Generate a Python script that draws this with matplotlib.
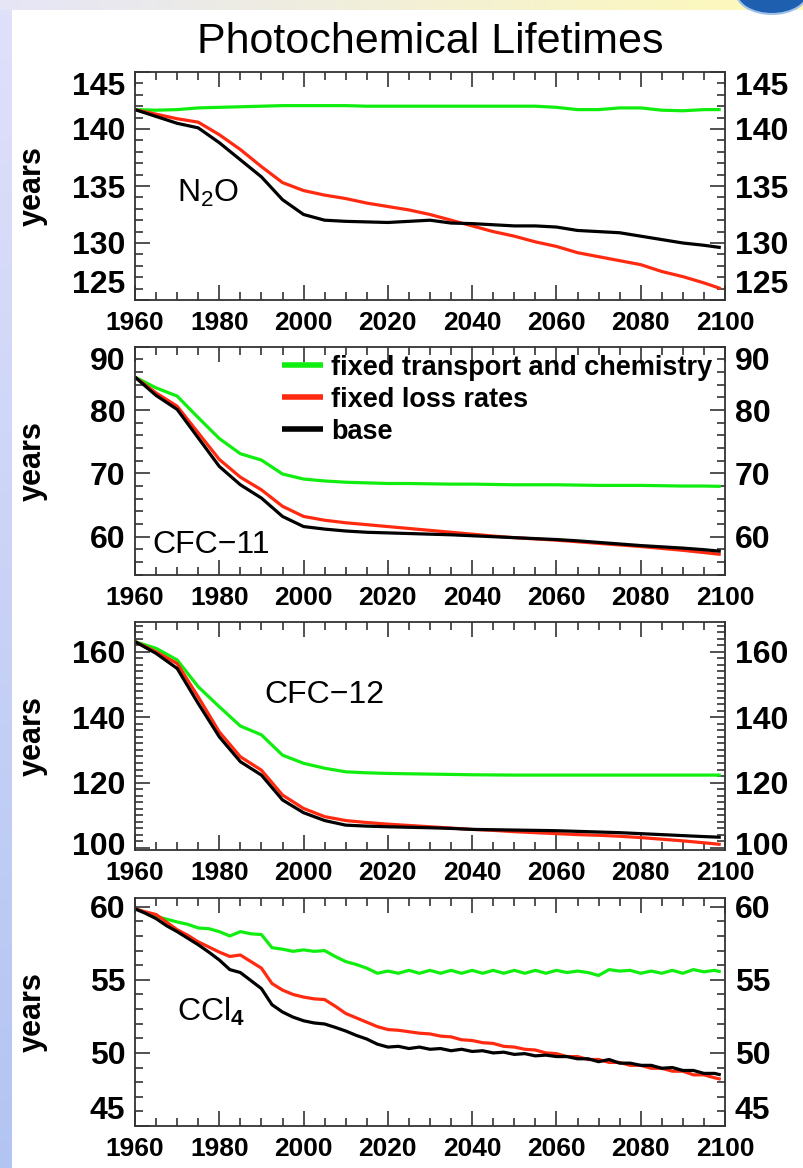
import numpy as np
import matplotlib
matplotlib.use('Agg')
import matplotlib.pyplot as plt
import matplotlib.transforms as mtransforms
from matplotlib.ticker import MultipleLocator, FixedLocator
from matplotlib.patches import Ellipse

plt.rcParams['font.family'] = ['Liberation Sans', 'DejaVu Sans']
plt.rcParams['mathtext.fontset'] = 'custom'
plt.rcParams['mathtext.rm'] = 'Liberation Sans'
plt.rcParams['mathtext.bf'] = 'Liberation Sans:bold'

# --- data ---
years = list(range(1960, 2100, 5)) + [2099]
years_ccl4 = list(np.arange(1960, 2099, 2.5)) + [2099]

n2o_fixed_tc = [141.7, 141.65, 141.7, 141.85, 141.9, 141.95, 142.0, 142.05, 142.05, 142.05,
                142.05, 142.0, 142.0, 142.0, 142.0, 142.0, 142.0, 142.0, 142.0, 142.0,
                141.9, 141.7, 141.7, 141.85, 141.85, 141.65, 141.6, 141.7, 141.7]
n2o_fixed_loss = [141.7, 141.3, 140.9, 140.6, 139.5, 138.2, 136.7, 135.3, 134.6, 134.2,
                  133.9, 133.5, 133.2, 132.9, 132.5, 132.0, 131.5, 131.0, 130.6, 130.1,
                  129.7, 129.15, 128.8, 128.45, 128.1, 127.5, 127.05, 126.5, 126.0]
n2o_base = [141.7, 141.1, 140.5, 140.1, 138.8, 137.3, 135.8, 133.8, 132.5, 132.0,
            131.9, 131.85, 131.8, 131.9, 132.0, 131.75, 131.7, 131.6, 131.5, 131.5,
            131.4, 131.1, 131.0, 130.9, 130.6, 130.3, 130.0, 129.8, 129.6]

cfc11_fixed_tc = [85.2, 83.5, 82.2, 78.8, 75.5, 73.1, 72.1, 69.9, 69.1, 68.8,
                  68.6, 68.5, 68.4, 68.4, 68.35, 68.3, 68.3, 68.25, 68.2, 68.2,
                  68.2, 68.15, 68.1, 68.1, 68.1, 68.05, 68.0, 68.0, 67.95]
cfc11_fixed_loss = [85.2, 82.7, 80.6, 76.4, 72.2, 69.4, 67.4, 64.8, 63.2, 62.6,
                    62.2, 61.9, 61.6, 61.3, 61.0, 60.7, 60.4, 60.1, 59.85, 59.65,
                    59.45, 59.2, 58.95, 58.7, 58.45, 58.15, 57.85, 57.5, 57.2]
cfc11_base = [85.2, 82.3, 80.1, 75.6, 71.1, 68.2, 66.1, 63.2, 61.6, 61.2,
              60.9, 60.7, 60.6, 60.5, 60.4, 60.3, 60.15, 60.0, 59.85, 59.7,
              59.55, 59.35, 59.1, 58.85, 58.6, 58.4, 58.2, 57.95, 57.7]

cfc12_fixed_tc = [163.1, 161.05, 157.5, 149.3, 143.2, 137.3, 134.6, 128.4, 125.9, 124.4,
                  123.3, 123.0, 122.8, 122.7, 122.6, 122.5, 122.4, 122.35, 122.3, 122.3,
                  122.3, 122.3, 122.3, 122.3, 122.3, 122.3, 122.3, 122.3, 122.3]
cfc12_fixed_loss = [163.1, 160.0, 156.4, 146.2, 135.5, 127.9, 123.8, 116.2, 112.1, 109.6,
                    108.4, 107.8, 107.3, 106.9, 106.5, 106.1, 105.7, 105.4, 105.0, 104.7,
                    104.4, 104.1, 103.9, 103.6, 103.2, 102.7, 102.2, 101.6, 101.1]
cfc12_base = [163.1, 159.5, 154.9, 144.2, 134.0, 126.4, 122.3, 114.7, 110.8, 108.4,
              107.0, 106.7, 106.5, 106.35, 106.2, 106.0, 105.7, 105.6, 105.5, 105.4,
              105.3, 105.1, 104.9, 104.7, 104.4, 104.1, 103.8, 103.5, 103.3]

ccl4_fixed_tc = [59.86, 59.6, 59.35, 59.15, 58.96, 58.8, 58.55, 58.5, 58.3, 58.0,
                 58.3, 58.15, 58.1, 57.2, 57.1, 56.95, 57.05, 56.95, 57.0, 56.6,
                 56.25, 56.05, 55.8, 55.45, 55.6, 55.45, 55.65, 55.45, 55.65, 55.45,
                 55.65, 55.45, 55.65, 55.45, 55.65, 55.45, 55.65, 55.45, 55.65, 55.45,
                 55.65, 55.5, 55.6, 55.5, 55.3, 55.7, 55.6, 55.65, 55.45, 55.6,
                 55.45, 55.65, 55.45, 55.7, 55.55, 55.65, 55.55]
ccl4_fixed_loss = [59.86, 59.65, 59.47, 58.95, 58.43, 58.05, 57.6, 57.25, 56.9, 56.6,
                   56.7, 56.25, 55.8, 54.75, 54.3, 54.0, 53.82, 53.7, 53.65, 53.2,
                   52.7, 52.4, 52.1, 51.8, 51.6, 51.55, 51.45, 51.35, 51.3, 51.15,
                   51.1, 50.9, 50.85, 50.7, 50.65, 50.45, 50.4, 50.25, 50.2, 50.0,
                   49.95, 49.75, 49.75, 49.55, 49.55, 49.35, 49.35, 49.15, 49.15, 48.95,
                   48.95, 48.75, 48.75, 48.5, 48.5, 48.3, 48.2]
ccl4_base = [59.86, 59.55, 59.19, 58.7, 58.3, 57.85, 57.4, 56.9, 56.36, 55.7,
             55.5, 54.95, 54.4, 53.3, 52.8, 52.45, 52.2, 52.05, 51.98, 51.75,
             51.5, 51.2, 50.95, 50.6, 50.4, 50.45, 50.3, 50.4, 50.25, 50.3,
             50.15, 50.25, 50.1, 50.15, 50.0, 50.05, 49.9, 49.95, 49.8, 49.85,
             49.75, 49.75, 49.6, 49.6, 49.4, 49.55, 49.3, 49.3, 49.15, 49.15,
             48.95, 49.0, 48.8, 48.8, 48.6, 48.6, 48.5]

series_labels = ['fixed transport and chemistry', 'fixed loss rates', 'base']
series_colors = ['#10ee10', '#ff2a10', 'black']
xticks = [1960, 1980, 2000, 2020, 2040, 2060, 2080, 2100]

# panel: (x, [tc, loss, base], name, ylim, yticks, minor step, label pos, label va fix)
panels = [
    (years, [n2o_fixed_tc, n2o_fixed_loss, n2o_base], 'N$_\\mathregular{2}$O',
     (125, 145), [125, 130, 135, 140, 145], 1, (0.071, 0.47), {0: 'bottom', 4: 'top'}),
    (years, [cfc11_fixed_tc, cfc11_fixed_loss, cfc11_base], 'CFC\u221211',
     (54, 90), [60, 70, 80, 90], 2, (0.029, 0.13), {3: 'top'}),
    (years, [cfc12_fixed_tc, cfc12_fixed_loss, cfc12_base], 'CFC\u221212',
     (99.4, 169.1), [100, 120, 140, 160], 2, (0.22, 0.68), {}),
    (years_ccl4, [ccl4_fixed_tc, ccl4_fixed_loss, ccl4_base], 'CCl$_\\mathbf{4}$',
     (45, 60.6), [45, 50, 55, 60], 1, (0.071, 0.50), {0: 'bottom'}),
]

W, H = 804, 1168
fig = plt.figure(figsize=(W / 100, H / 100), dpi=100)
fig.patch.set_facecolor('white')

# slide-like background strips
left_strip = fig.add_axes([0, 0, 12 / W, 1])
grad_v = np.linspace(0, 1, 256)[:, None]
c_top = np.array([0.88, 0.88, 0.98])
c_bot = np.array([0.70, 0.77, 0.95])
left_strip.imshow(c_top + (c_bot - c_top) * grad_v[:, :, None] * np.ones((1, 1, 3)),
                  aspect='auto', extent=[0, 1, 0, 1])
left_strip.axis('off')

top_strip = fig.add_axes([0, 1 - 10 / H, 1, 10 / H])
grad_h = np.linspace(0, 1, 256)[None, :]
c_l = np.array([0.90, 0.90, 0.97])
c_r = np.array([1.0, 0.98, 0.72])
top_strip.imshow(c_l + (c_r - c_l) * grad_h[:, :, None] * np.ones((1, 1, 3)),
                 aspect='auto', extent=[0, 1, 0, 1])
top_strip.axis('off')
fig.patches.append(Ellipse((772 / W, 1 + 8 / H), 72 / W, 44 / H,
                           transform=fig.transFigure, facecolor='#1f5fb0',
                           edgecolor='#9fc0e8', lw=1.5, zorder=5))

fig.text(0.535, 1 - 42 / H, 'Photochemical Lifetimes', ha='center', va='center',
         fontsize=31)

tops = [72, 346.7, 622, 898]
ax_h = 228
for i, (xs, ys, name, ylim, yt, mstep, lpos, vafix) in enumerate(panels):
    top = tops[i]
    ax = fig.add_axes([135 / W, 1 - (top + ax_h) / H, 590 / W, ax_h / H])
    for vals, col, lab in zip(ys, series_colors, series_labels):
        ax.plot(xs, vals, color=col, lw=2.3, label=lab, solid_capstyle='butt')
    ax.set_xlim(1960, 2100)
    ax.set_ylim(*ylim)
    ax.xaxis.set_major_locator(FixedLocator(xticks))
    ax.xaxis.set_minor_locator(MultipleLocator(5))
    ax.yaxis.set_major_locator(FixedLocator(yt))
    ax.yaxis.set_minor_locator(MultipleLocator(mstep))
    ax.tick_params(which='both', direction='in', top=True, right=True,
                   labelright=True, color='#333333', width=1.2)
    ax.tick_params(which='major', length=11)
    ax.tick_params(which='minor', length=6)
    ax.tick_params(axis='x', labelsize=19, pad=8)
    ax.tick_params(axis='y', labelsize=23, pad=7)
    for sp in ax.spines.values():
        sp.set_color('#333333')
        sp.set_linewidth(1.3)
    ax.set_ylabel('years', fontsize=22, fontweight='bold')
    ax.yaxis.set_label_coords(-(135 - 48) / 590, 0.5)
    ax.text(lpos[0], lpos[1], name, transform=ax.transAxes, fontsize=23,
            ha='left', va='center')
    for t in ax.xaxis.get_major_ticks() + ax.yaxis.get_major_ticks():
        t.label1.set_fontweight('bold')
        t.label2.set_fontweight('bold')
    ticks = ax.yaxis.get_major_ticks()
    for k, va in vafix.items():
        ticks[k].label1.set_va(va)
        ticks[k].label2.set_va(va)
    if i == 2:
        # lowest label sits on the bottom spine; nudge it up a little
        lift = mtransforms.Affine2D().translate(0, 5)
        for lbl in (ticks[0].label1, ticks[0].label2):
            lbl.set_transform(lbl.get_transform() + lift)
    if i == 1:
        ax.legend(loc='upper left', bbox_to_anchor=((282 - 135) / 590, 0.965),
                  frameon=False, prop={'weight': 'bold', 'size': 19.5},
                  handlelength=1.5, handletextpad=0.3, labelspacing=0.22,
                  borderpad=0, borderaxespad=0)
        for ln in ax.get_legend().get_lines():
            ln.set_linewidth(4)

fig.savefig('out.png', dpi=100, facecolor=fig.get_facecolor())
